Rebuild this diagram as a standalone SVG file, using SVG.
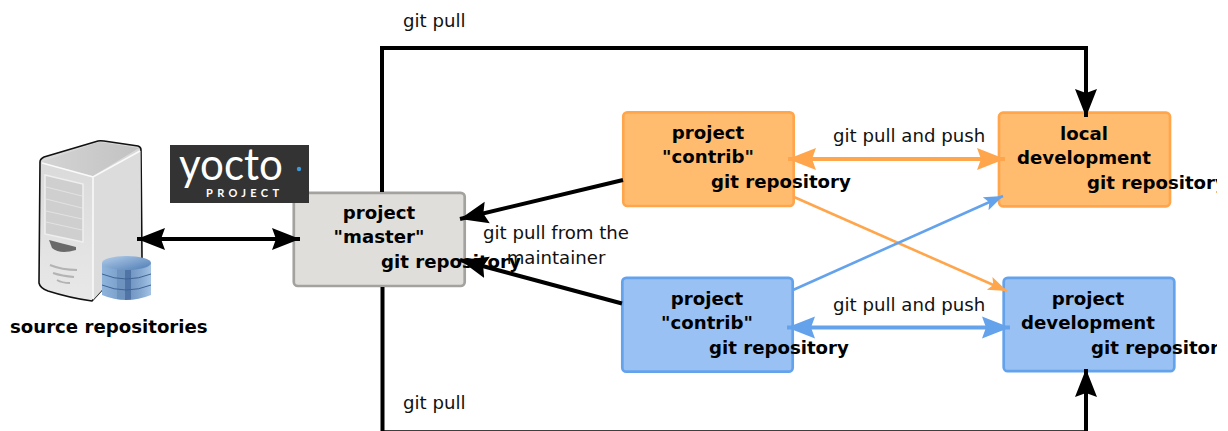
<svg xmlns="http://www.w3.org/2000/svg" width="1228" height="431" viewBox="0 0 1228 431">
<style>
text{font-family:"DejaVu Sans",sans-serif;font-size:18.15px;fill:#111}
.b{font-weight:bold;fill:#000}
.m{text-anchor:middle}
.n{stroke-width:2.7}
.k{fill:none;stroke:#000;stroke-width:4}
.o{fill:none;stroke:#FFA64D}
.u{fill:none;stroke:#64A2EC}
</style>
<defs>
<linearGradient id="roof" x1="0" x2="1" y1="0" y2="0"><stop offset="0" stop-color="#d4d4d4"/><stop offset="1" stop-color="#c2c2c2"/></linearGradient>
<linearGradient id="front" x1="0" x2="0" y1="0" y2="1"><stop offset="0" stop-color="#d8d8d8"/><stop offset="1" stop-color="#e8e8e8"/></linearGradient>
<linearGradient id="cyl" x1="0" x2="1" y1="0" y2="0">
<stop offset="0" stop-color="#8FB4DC"/><stop offset=".3" stop-color="#7EA3CD"/><stop offset=".3" stop-color="#6E93BF"/><stop offset=".47" stop-color="#6E93BF"/><stop offset=".47" stop-color="#4F74A5"/><stop offset=".6" stop-color="#4F74A5"/><stop offset=".6" stop-color="#7398C4"/><stop offset=".8" stop-color="#86A9D1"/><stop offset="1" stop-color="#A3C3E4"/></linearGradient>
<linearGradient id="cyt" x1="0" x2="1" y1="0" y2="1"><stop offset="0" stop-color="#B4CEEA"/><stop offset="1" stop-color="#4F7DB5"/></linearGradient>
<clipPath id="clip"><rect x="0" y="0" width="1217" height="431"/></clipPath>
<marker id="ak" markerUnits="userSpaceOnUse" markerWidth="30" markerHeight="24" viewBox="0 0 30 24" refX="28" refY="12" orient="auto-start-reverse"><path d="M0 1 L28 12 L0 23 L4 12Z" fill="#000"/></marker>
<marker id="ao" markerUnits="userSpaceOnUse" markerWidth="30" markerHeight="24" viewBox="0 0 30 24" refX="28" refY="12" orient="auto-start-reverse"><path d="M0 1 L28 12 L0 23 L4 12Z" fill="#FFA64D"/></marker>
<marker id="au" markerUnits="userSpaceOnUse" markerWidth="30" markerHeight="24" viewBox="0 0 30 24" refX="28" refY="12" orient="auto-start-reverse"><path d="M0 1 L28 12 L0 23 L4 12Z" fill="#64A2EC"/></marker>
<marker id="so" markerUnits="userSpaceOnUse" markerWidth="20" markerHeight="16" viewBox="0 0 20 16" refX="19" refY="8" orient="auto"><path d="M0 1 L19 8 L0 15 L4 8Z" fill="#FFA64D"/></marker>
<marker id="su" markerUnits="userSpaceOnUse" markerWidth="20" markerHeight="16" viewBox="0 0 20 16" refX="19" refY="8" orient="auto"><path d="M0 1 L19 8 L0 15 L4 8Z" fill="#64A2EC"/></marker>
</defs>

<g id="source-repositories">
<path d="M40 162Q40 159 44 157L98 141Q100 140.500 104 141L138 146Q141 147 141 150L142 258L102 290L92 301Q70 298 48 291Q40 288 39 283Z" fill="url(#front)" stroke="#111" stroke-width="1.600"/>
<path d="M41 162L99 142L139 148L93 176Z" fill="url(#roof)"/>
<path d="M93 177L140.500 151L141 258L102 290L93 300Z" fill="#dcdcdc"/>
<path d="M42 163L93 177L140 151M93 177V299" fill="none" stroke="#fafafa" stroke-width="1.500"/>
<path d="M45 175L83 184V242L45 234Z" fill="#cfcfcf" stroke="#efefef" stroke-width="1.500"/>
<path d="M46 187L82 196M46 199L82 208M46 211L82 219M46 222L82 230" stroke="#e3e3e3" stroke-width="1" fill="none"/>
<path d="M49 240Q60 243 76 247V250Q60 255 52 248Z" fill="#6a6a6a"/>
<path d="M50 265Q62 270 77 270M53 273Q62 276 74 277M57 280Q62 283 70 283" stroke="#b3b3b3" stroke-width="2" fill="none"/>
<path d="M102 263V295Q126 305 151 295V263Z" fill="url(#cyl)"/>
<path d="M102 274Q126 284 151 274M102 285Q126 295 151 285" fill="none" stroke="#3F6393" stroke-width="1"/>
<ellipse cx="126.500" cy="263" rx="24.500" ry="7" fill="url(#cyt)"/>
<text class="b" x="10" y="333">source repositories</text>
</g>

<g id="project-master">
<rect class="n" x="293.800" y="192.800" width="170.900" height="93.200" rx="4" fill="#DFDEDB" stroke="#A3A29E"/>
<text class="b m" x="379" y="219">project</text>
<text class="b m" x="379" y="243">"master"</text>
<text class="b" x="381" y="268">git repository</text>
</g>

<g id="yocto-logo">
<rect x="170" y="145" width="139" height="58" fill="#333"/>
<text x="179" y="180" style="font-family:'Lato',sans-serif;font-size:45px;font-weight:400;fill:#fff" textLength="104" lengthAdjust="spacingAndGlyphs">yocto</text>
<circle cx="299" cy="169" r="2.200" fill="#3D9BDA"/>
<text x="206" y="197" style="font-family:'Lato',sans-serif;font-size:11px;font-weight:bold;fill:#fff" textLength="73" lengthAdjust="spacing">PROJECT</text>
</g>

<g id="contrib-orange">
<rect class="n" x="623.300" y="112.300" width="170.400" height="93.700" rx="4" fill="#FFBC6F" stroke="#FFA64D"/>
<text class="b m" x="708" y="139">project</text>
<text class="b m" x="708" y="163">"contrib"</text>
<text class="b" x="711" y="188">git repository</text>
</g>

<g id="contrib-blue">
<rect class="n" x="622.300" y="277.800" width="170.400" height="93.900" rx="4" fill="#99C1F3" stroke="#64A2EC"/>
<text class="b m" x="707" y="305">project</text>
<text class="b m" x="707" y="329">"contrib"</text>
<text class="b" x="709" y="354">git repository</text>
</g>

<g id="local-development">
<rect class="n" x="999" y="112.700" width="171" height="93.600" rx="4" fill="#FFBC6F" stroke="#FFA64D"/>
<text class="b m" x="1084" y="140">local</text>
<text class="b m" x="1084" y="164">development</text>
<text class="b" x="1087" y="189" clip-path="url(#clip)">git repository</text>
</g>

<g id="project-development">
<rect class="n" x="1003.700" y="277.800" width="170.600" height="93.400" rx="4" fill="#99C1F3" stroke="#64A2EC"/>
<text class="b m" x="1088" y="305">project</text>
<text class="b m" x="1088" y="329">development</text>
<text class="b" x="1091" y="354" clip-path="url(#clip)">git repository</text>
</g>

<g id="connectors">
<path class="k" d="M382 192V48H1086V117" marker-end="url(#ak)"/>
<path class="k" d="M382.500 287V432.300H1086V369" marker-end="url(#ak)"/>
<path class="k" d="M137 239H300" marker-start="url(#ak)" marker-end="url(#ak)"/>
<path class="k" d="M623 180L460 219" marker-end="url(#ak)"/>
<path class="k" d="M622 303.500L460 260" marker-end="url(#ak)"/>
<path class="o" stroke-width="4" d="M788 159H1005" marker-start="url(#ao)" marker-end="url(#ao)"/>
<path class="u" stroke-width="4" d="M787 327.500H1010" marker-start="url(#au)" marker-end="url(#au)"/>
<path class="o" stroke-width="2.600" d="M794 197L1007 291" marker-end="url(#so)"/>
<path class="u" stroke-width="2.600" d="M793 290L1003 196" marker-end="url(#su)"/>
</g>

<g id="labels">
<text x="403" y="27">git pull</text>
<text x="403" y="409">git pull</text>
<text x="833" y="142">git pull and push</text>
<text x="833" y="311">git pull and push</text>
<text class="m" x="556" y="239">git pull from the</text>
<text class="m" x="556" y="264">maintainer</text>
</g>
</svg>
